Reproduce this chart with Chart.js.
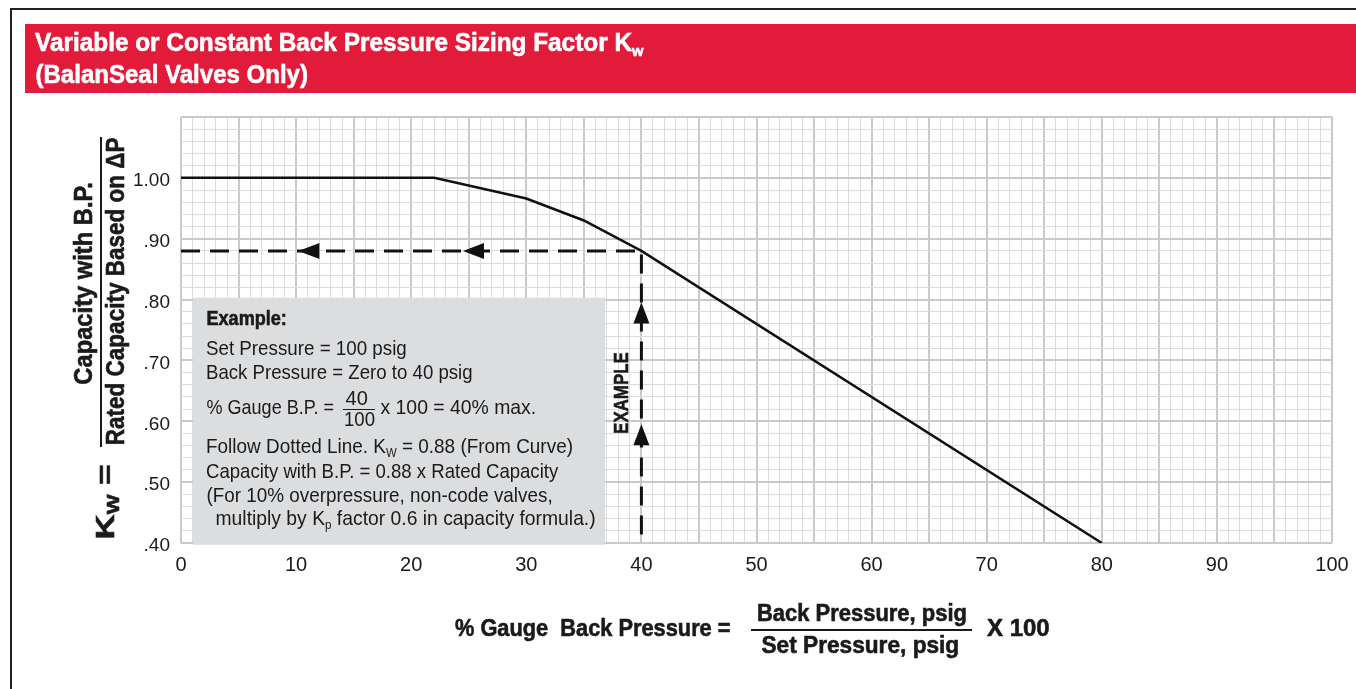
<!DOCTYPE html>
<html>
<head>
<meta charset="utf-8">
<script src="https://cdn.jsdelivr.net/npm/chart.js@4/dist/chart.umd.min.js"></script>
<style>
  html, body { margin: 0; padding: 0; background: #fff; }
  body {
    width: 1356px; height: 689px; position: relative; overflow: hidden;
    font-family: "Liberation Sans", Arial, sans-serif; color: #1a1a1a;
  }
  #frame { position: absolute; left: 10px; top: 8px; width: 1400px; height: 720px; border-left: 2px solid #222; border-top: 2px solid #222; }
  #titlebar { position: absolute; left: 25px; top: 24px; width: 1331px; height: 69px; background: #e31b3a; }
  canvas { position: absolute; left: 0; top: 0; }
  .t { position: absolute; white-space: pre; line-height: 1.15; transform-origin: center center; }
  .b { font-weight: bold; -webkit-text-stroke: 0.6px currentColor; }
  .t sub { font-size: 0.6em; vertical-align: -0.3em; line-height: 0; }
  .bar { position: absolute; background: #1a1a1a; }
</style>
</head>
<body>
<div id="frame"></div>
<div id="titlebar"></div>
<canvas id="kwChart" width="1356" height="689"></canvas>

<!-- title -->
<div class="t b" style="font-size:25px;color:#fff" data-cx="339" data-cy="42.5" data-w="608">Variable or Constant Back Pressure Sizing Factor K<sub>w</sub></div>
<div class="t b" style="font-size:25px;color:#fff" data-cx="171" data-cy="74" data-w="272">(BalanSeal Valves Only)</div>

<!-- y axis title -->
<div class="t b" style="font-size:25px" data-cx="84" data-cy="283" data-w="203" data-rot="-90">Capacity with B.P.</div>
<div class="bar" style="left:100px;top:137px;width:2px;height:310px"></div>
<div class="t b" style="font-size:25px" data-cx="116" data-cy="291" data-w="308" data-rot="-90">Rated Capacity Based on ΔP</div>
<div class="t b" style="font-size:26px" data-cx="106" data-cy="502" data-w="75" data-rot="-90">K<sub>W</sub> =</div>

<!-- x axis title -->
<div class="t b" style="font-size:24px" data-cx="593" data-cy="627.5" data-w="276">% Gauge  Back Pressure =</div>
<div class="t b" style="font-size:23px" data-cx="862" data-cy="613" data-w="210">Back Pressure, psig</div>
<div class="bar" style="left:751px;top:629px;width:221px;height:2px"></div>
<div class="t b" style="font-size:23px" data-cx="860" data-cy="644.5" data-w="198">Set Pressure, psig</div>
<div class="t b" style="font-size:24px" data-cx="1018.5" data-cy="627.5" data-w="63">X 100</div>

<!-- example text -->
<div class="t b" style="font-size:21px" data-cx="246" data-cy="318" data-w="80">Example:</div>
<div class="t" style="font-size:21px" data-cx="306.5" data-cy="348" data-w="201">Set Pressure = 100 psig</div>
<div class="t" style="font-size:21px" data-cx="339.5" data-cy="371.5" data-w="267">Back Pressure = Zero to 40 psig</div>
<div class="t" style="font-size:21px" data-cx="269.5" data-cy="407" data-w="127">% Gauge B.P. =</div>
<div class="t" style="font-size:21px" data-cx="356" data-cy="397.5" data-w="22">40</div>
<div class="bar" style="left:343px;top:409px;width:32px;height:1px"></div>
<div class="t" style="font-size:21px" data-cx="359.5" data-cy="419" data-w="31">100</div>
<div class="t" style="font-size:21px" data-cx="458" data-cy="407" data-w="156">x 100 = 40% max.</div>
<div class="t" style="font-size:21px" data-cx="389.5" data-cy="445.7" data-w="367">Follow Dotted Line. K<sub>W</sub> = 0.88 (From Curve)</div>
<div class="t" style="font-size:21px" data-cx="382" data-cy="470.5" data-w="352">Capacity with B.P. = 0.88 x Rated Capacity</div>
<div class="t" style="font-size:21px" data-cx="379" data-cy="494.5" data-w="346">(For 10% overpressure, non-code valves,</div>
<div class="t" style="font-size:21px" data-cx="405" data-cy="518" data-w="380">multiply by K<sub>p</sub> factor 0.6 in capacity formula.)</div>
<div class="t b" style="font-size:21px" data-cx="621" data-cy="392.5" data-w="82" data-rot="-90">EXAMPLE</div>

<script>
// curve
const backPressure = [0, 22, 30, 35, 40, 80];
const kwFactor = [1.00, 1.00, 0.966, 0.93, 0.88, 0.40];

// worked example (dashed path)
const examplePathX = [0, 40, 40];
const examplePathY = [0.88, 0.88, 0.40];

// arrow heads on the dashed path
const arrowX = [10.2, 24.5, 40, 40];
const arrowY = [0.88, 0.88, 0.795, 0.595];
const arrowDir = ['left', 'left', 'up', 'up'];

// grey box behind the example text
const exampleBoxX = [1.05, 36.85];
const exampleBoxY = [0.397, 0.803];

const xTickLabels = ['0', '10', '20', '30', '40', '50', '60', '70', '80', '90', '100'];
const yTickLabels = ['.40', '.50', '.60', '.70', '.80', '.90', '1.00'];

// squeeze the html labels to the narrow type of the original
document.querySelectorAll('.t').forEach(el => {
    const w = el.offsetWidth, h = el.offsetHeight;
    const k = parseFloat(el.dataset.w) / w;
    el.style.left = (parseFloat(el.dataset.cx) - w / 2) + 'px';
    el.style.top = (parseFloat(el.dataset.cy) - h / 2) + 'px';
    el.style.transform = `rotate(${el.dataset.rot || 0}deg) scaleX(${k})`;
});

Chart.defaults.font.family = '"Liberation Sans", Arial, sans-serif';
Chart.defaults.color = '#1a1a1a';

const exampleBox = {
    id: 'exampleBox',
    beforeDatasetsDraw(chart) {
        const { ctx, scales: { x, y } } = chart;
        const l = x.getPixelForValue(exampleBoxX[0]), r = x.getPixelForValue(exampleBoxX[1]);
        const t = y.getPixelForValue(exampleBoxY[1]), b = y.getPixelForValue(exampleBoxY[0]);
        ctx.save();
        ctx.fillStyle = '#dcdddf';
        ctx.fillRect(l, t, r - l, b - t);
        ctx.restore();
    }
};

const arrowHeads = {
    id: 'arrowHeads',
    afterDatasetsDraw(chart) {
        const { ctx, scales: { x, y } } = chart;
        ctx.save();
        ctx.fillStyle = '#111';
        arrowX.forEach((v, i) => {
            ctx.save();
            ctx.translate(x.getPixelForValue(v), y.getPixelForValue(arrowY[i]));
            if (arrowDir[i] === 'up') ctx.rotate(Math.PI / 2);
            ctx.beginPath();
            ctx.moveTo(0, 0);
            ctx.lineTo(21, -8);
            ctx.lineTo(21, 8);
            ctx.closePath();
            ctx.fill();
            ctx.restore();
        });
        ctx.restore();
    }
};

const isMajorX = v => Math.round(v) % 5 === 0;
const isMajorY = v => Math.round(v * 100) % 10 === 0;

new Chart(document.getElementById('kwChart'), {
    type: 'line',
    data: {
        datasets: [{
            data: backPressure.map((v, i) => ({ x: v, y: kwFactor[i] })),
            borderColor: '#111',
            borderWidth: 2.5,
            pointRadius: 0,
            tension: 0
        }, {
            data: examplePathX.map((v, i) => ({ x: v, y: examplePathY[i] })),
            borderColor: '#111',
            borderWidth: 3,
            borderDash: [19, 10],
            pointRadius: 0,
            tension: 0
        }]
    },
    options: {
        responsive: false,
        animation: false,
        layout: { padding: { left: 121, top: 117, right: 24, bottom: 106 } },
        plugins: { legend: { display: false }, tooltip: { enabled: false } },
        scales: {
            x: {
                type: 'linear',
                min: 0, max: 100,
                border: { display: false },
                grid: {
                    drawTicks: false,
                    color: c => isMajorX(c.tick.value) ? '#c9c9c9' : '#dcdcdc',
                    lineWidth: c => isMajorX(c.tick.value) ? 2 : 1
                },
                ticks: {
                    stepSize: 1, autoSkip: false, maxRotation: 0, padding: 10,
                    font: { size: 20 },
                    callback: v => (Math.round(v) % 10 === 0 ? xTickLabels[Math.round(v) / 10] : '')
                },
                afterFit: s => { s.height = 40; s.paddingLeft = 0; s.paddingRight = 0; }
            },
            y: {
                min: 0.4, max: 1.1,
                border: { display: false },
                grid: {
                    drawTicks: false,
                    color: c => isMajorY(c.tick.value) ? '#c9c9c9' : '#dcdcdc',
                    lineWidth: c => isMajorY(c.tick.value) ? 2 : 1
                },
                ticks: {
                    stepSize: 0.02, autoSkip: false, padding: 11, labelOffset: 3,
                    font: { size: 19 },
                    callback: v => {
                        const k = Math.round(v * 100);
                        return k % 10 === 0 ? (yTickLabels[(k - 40) / 10] || '') : '';
                    }
                },
                afterFit: s => { s.width = 60; s.paddingTop = 0; s.paddingBottom = 0; }
            }
        }
    },
    plugins: [exampleBox, arrowHeads]
});
</script>
</body>
</html>
